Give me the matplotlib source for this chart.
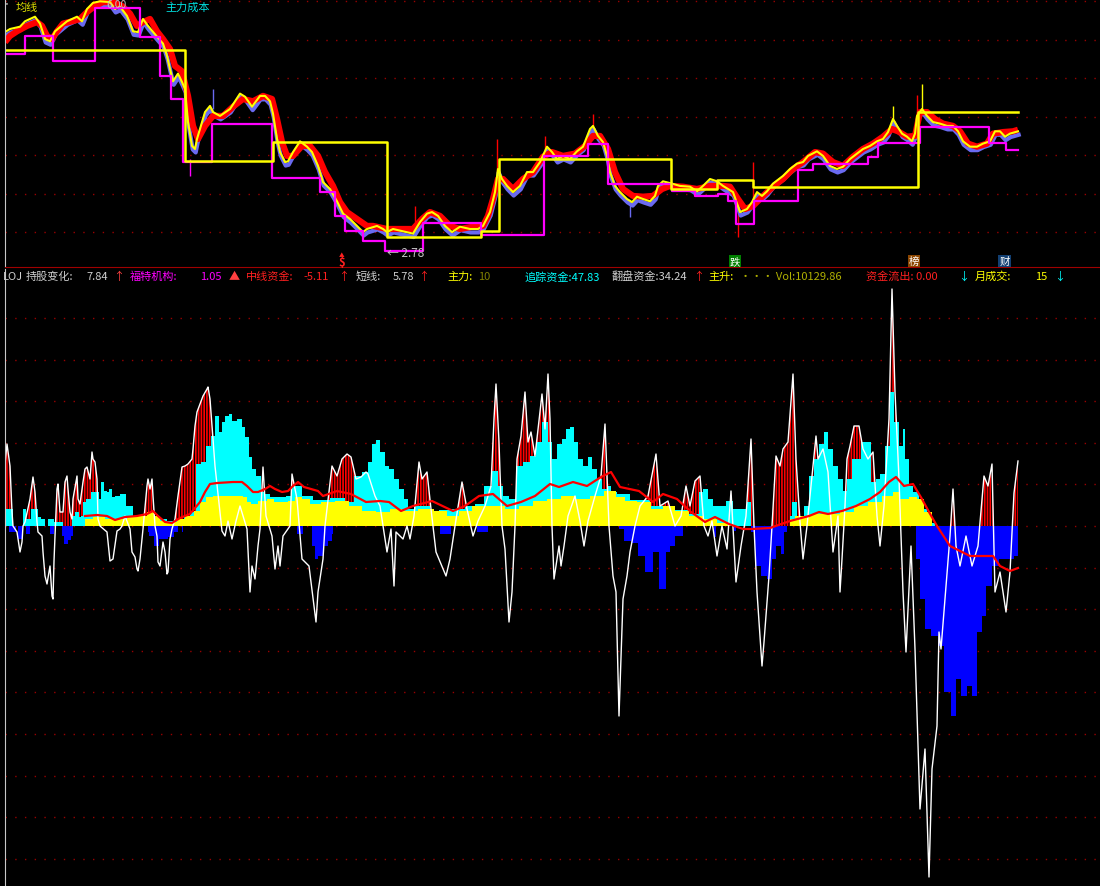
import numpy as np
import matplotlib.pyplot as plt
import matplotlib.patheffects as pe

plt.rcParams['font.family'] = ['Noto Sans CJK SC', 'DejaVu Sans']
plt.rcParams['hatch.linewidth'] = 1.2

# ---- 主图数据 (交易日序号, 价格) ----
close_pts = [
    (1.0, 5.60), (2.0, 5.64), (4.0, 5.67), (5.0, 5.74), (6.0, 5.77), (7.0, 5.80), (8.0, 5.71), (9.0, 5.51),
    (10.0, 5.48), (11.0, 5.61), (13.4, 5.74), (15.4, 5.80), (16.4, 5.74), (17.4, 5.90), (18.6, 5.98), (20.0, 6.00),
    (22.0, 5.99), (23.0, 5.90), (24.0, 5.93), (25.4, 5.81), (26.6, 5.61), (27.6, 5.60), (28.6, 5.77), (29.6, 5.68),
    (31.4, 5.54), (32.6, 5.45), (33.4, 5.29), (34.0, 5.12), (34.6, 4.96), (35.6, 5.06), (36.4, 4.95), (37.0, 4.86),
    (37.6, 4.43), (38.4, 4.12), (39.0, 4.08), (39.4, 4.21), (40.0, 4.34), (41.0, 4.56), (42.0, 4.64), (42.6, 4.56),
    (44.0, 4.51), (46.0, 4.60), (48.0, 4.80), (49.0, 4.76), (50.4, 4.63), (52.0, 4.77), (53.0, 4.77), (54.0, 4.70),
    (54.6, 4.54), (55.4, 4.21), (56.0, 4.04), (57.0, 3.91), (57.6, 3.92), (58.6, 4.04), (60.0, 4.18), (61.4, 4.11),
    (62.4, 4.04), (63.6, 3.86), (64.6, 3.65), (66.0, 3.56), (67.4, 3.40), (68.6, 3.24), (70.0, 3.17), (71.4, 3.08),
    (72.6, 3.00), (73.4, 3.04), (75.4, 3.08), (76.6, 3.04), (77.4, 3.00), (78.6, 3.04), (80.6, 3.01), (82.6, 2.98),
    (84.0, 3.13), (85.4, 3.24), (86.4, 3.26), (87.6, 3.21), (89.0, 3.08), (90.4, 3.00), (92.0, 3.07), (94.0, 3.04),
    (95.6, 3.04), (96.6, 3.08), (98.0, 3.26), (99.0, 3.52), (99.6, 3.82), (100.4, 3.69), (101.4, 3.60), (102.6, 3.52),
    (104.0, 3.60), (105.4, 3.78), (106.6, 3.78), (108.0, 3.91), (109.4, 4.11), (110.4, 4.04), (111.4, 3.95), (112.6, 3.99),
    (114.0, 3.95), (115.4, 4.05), (116.6, 4.11), (118.0, 4.34), (118.6, 4.38), (119.6, 4.25), (120.6, 4.17), (121.4, 3.99),
    (122.0, 3.78), (123.0, 3.60), (124.0, 3.52), (125.4, 3.43), (126.4, 3.39), (127.4, 3.46), (128.6, 3.43), (130.0, 3.40),
    (131.0, 3.47), (131.6, 3.60), (132.6, 3.66), (134.4, 3.63), (136.0, 3.60), (138.0, 3.59), (139.4, 3.53), (140.6, 3.60),
    (142.0, 3.69), (143.4, 3.66), (144.6, 3.60), (146.6, 3.52), (148.0, 3.26), (149.4, 3.30), (150.4, 3.39), (151.4, 3.52),
    (152.4, 3.47), (153.4, 3.53), (154.6, 3.63), (156.6, 3.73), (158.0, 3.82), (159.4, 3.89), (160.6, 3.91), (161.6, 3.99),
    (163.4, 4.05), (164.6, 3.99), (166.0, 3.86), (167.4, 3.82), (168.6, 3.85), (170.0, 3.95), (171.4, 4.02), (172.6, 4.08),
    (174.0, 4.12), (175.4, 4.18), (176.6, 4.21), (177.6, 4.30), (178.6, 4.47), (179.4, 4.38), (180.4, 4.28), (181.4, 4.24),
    (182.4, 4.18), (183.0, 4.28), (183.4, 4.51), (184.4, 4.60), (185.4, 4.51), (186.6, 4.43), (188.0, 4.41), (189.4, 4.38),
    (190.6, 4.38), (191.6, 4.31), (192.6, 4.18), (194.0, 4.11), (195.4, 4.11), (196.6, 4.15), (198.0, 4.18), (199.0, 4.31),
    (200.0, 4.31), (201.0, 4.24), (202.0, 4.28), (203.6, 4.31),
]

ma_pts = [
    (1.0, 5.47), (2.0, 5.55), (3.4, 5.61), (5.4, 5.68), (7.4, 5.73), (8.4, 5.68), (9.4, 5.55), (10.4, 5.51),
    (11.4, 5.61), (12.6, 5.71), (14.4, 5.74), (16.0, 5.77), (17.4, 5.86), (19.0, 5.94), (20.6, 5.99), (22.6, 5.99),
    (24.4, 5.94), (26.0, 5.84), (27.4, 5.68), (28.6, 5.73), (30.0, 5.77), (31.4, 5.61), (32.6, 5.51), (34.0, 5.38),
    (35.0, 5.16), (36.4, 5.09), (37.6, 4.77), (38.6, 4.38), (39.6, 4.21), (41.0, 4.38), (42.6, 4.51), (44.6, 4.51),
    (46.6, 4.63), (48.6, 4.73), (50.6, 4.70), (52.6, 4.77), (54.4, 4.73), (55.4, 4.47), (56.4, 4.17), (57.4, 3.99),
    (58.6, 3.99), (60.4, 4.12), (62.0, 4.12), (63.6, 3.99), (65.0, 3.78), (66.6, 3.60), (68.0, 3.39), (69.4, 3.26),
    (71.4, 3.17), (73.4, 3.08), (74.6, 3.08), (77.4, 3.04), (80.0, 3.04), (82.6, 3.04), (84.4, 3.17), (86.0, 3.26),
    (88.0, 3.21), (90.0, 3.08), (92.0, 3.04), (94.6, 3.07), (96.6, 3.08), (97.6, 3.21), (98.6, 3.43), (99.6, 3.69),
    (100.6, 3.69), (102.6, 3.56), (104.6, 3.69), (106.6, 3.78), (108.6, 3.98), (110.4, 4.04), (112.6, 3.99), (115.0, 4.02),
    (117.0, 4.12), (118.6, 4.25), (120.0, 4.25), (121.6, 4.08), (123.0, 3.78), (124.6, 3.56), (126.6, 3.47), (128.6, 3.46),
    (130.6, 3.47), (132.4, 3.56), (134.0, 3.60), (136.6, 3.59), (139.4, 3.56), (142.0, 3.60), (144.6, 3.60), (146.0, 3.59),
    (147.6, 3.43), (149.0, 3.30), (150.6, 3.34), (152.6, 3.47), (154.6, 3.59), (156.6, 3.69), (158.6, 3.82), (160.6, 3.91),
    (163.0, 4.04), (164.6, 4.02), (166.6, 3.91), (168.6, 3.86), (170.6, 3.98), (172.6, 4.08), (174.6, 4.15), (176.6, 4.24),
    (178.4, 4.34), (179.6, 4.31), (181.4, 4.24), (183.0, 4.25), (184.0, 4.56), (185.4, 4.56), (187.0, 4.47), (188.6, 4.41),
    (190.6, 4.38), (192.0, 4.31), (193.6, 4.15), (195.4, 4.11), (197.4, 4.15), (198.6, 4.28), (200.6, 4.30), (202.6, 4.31),
    (203.6, 4.33),
]

# 阶梯通道线 (起始日, 价位)
mag_steps = [
    (1.0, 5.31), (5.0, 5.55), (10.6, 5.22), (19.0, 5.91), (28.0, 5.54), (32.0, 5.03), (34.2, 4.73), (36.6, 3.91),
    (42.4, 4.41), (54.4, 3.70), (64.0, 3.52), (67.0, 3.21), (69.0, 3.01), (72.6, 2.88), (77.0, 2.75), (84.6, 3.12),
    (96.2, 2.96), (108.8, 3.99), (117.6, 4.15), (121.6, 3.63), (134.4, 3.53), (139.0, 3.47), (143.6, 3.50), (145.6, 3.40),
    (147.2, 3.11), (150.8, 3.40), (159.6, 3.81), (162.6, 3.89), (173.6, 3.98), (175.6, 4.16), (184.0, 4.37), (197.8, 4.16),
    (201.2, 4.07), (203.6, 4.07),
]
yel_steps = [
    (1.0, 5.37), (37.0, 3.92), (54.6, 4.17), (77.4, 2.94), (96.2, 3.01), (99.8, 3.95), (134.2, 3.56), (143.4, 3.68),
    (150.6, 3.59), (183.6, 4.56), (203.6, 4.56),
]

# 影线 (日, 低, 高, 颜色)
wicks = [
    (99.4, 3.76, 4.21, '#ff0000'), (147.6, 2.94, 3.26, '#ff0000'), (150.6, 3.43, 3.91, '#ff0000'),
    (184.4, 4.60, 4.93, '#ffff00'), (183.4, 4.56, 4.78, '#ff0000'), (178.6, 4.47, 4.64, '#ffff00'),
    (42.6, 4.60, 4.86, '#6a6af0'), (38.0, 3.73, 3.95, '#ff00ff'), (126.0, 3.20, 3.40, '#6a6af0'),
    (109.0, 4.08, 4.25, '#ff0000'), (118.6, 4.38, 4.54, '#ff0000'), (83.0, 3.13, 3.34, '#ff0000'),
]

# ---- 副图数据 ----
osc_pts = [
    (1.0, 62), (1.4, 82), (2.0, 60), (2.4, 14), (2.6, 0), (3.4, -6), (4.0, -26), (4.4, -16), (4.6, 0), (5.0, 4),
    (6.0, 27), (6.6, 49), (7.0, 34), (7.4, 4), (7.6, -6), (8.4, -10), (8.6, -26), (9.0, -50), (9.4, -58), (10.0, -40),
    (10.4, -70), (10.6, -73), (10.8, -35), (11.0, -10), (11.4, 37), (11.6, 42), (12.0, 14), (12.6, 14), (13.0, 44),
    (13.4, 50), (13.6, 37), (14.0, 14), (14.4, 7), (14.6, 27), (15.4, 50), (15.6, 27), (16.0, 22), (16.4, 37),
    (16.6, 44), (17.0, 57), (17.4, 59), (18.0, 47), (18.4, 74), (18.6, 67), (19.0, 64), (19.4, 47), (19.6, 7),
    (20.0, 0), (21.4, -6), (22.0, -35), (22.6, -33), (23.4, -5), (24.0, -3), (24.4, 0), (25.0, 10), (26.0, -3),
    (26.4, -26), (27.0, -31), (27.4, -43), (27.6, -45), (28.0, -33), (28.6, -3), (29.4, 40), (29.6, 47), (30.0, 37),
    (30.4, 47), (30.6, 30), (31.0, 0), (31.4, -10), (31.6, -36), (32.0, -40), (32.6, -16), (33.0, -26), (33.4, -48),
    (33.6, -46), (34.0, -13), (34.4, -3), (35.0, 7), (35.6, 30), (36.4, 59), (37.0, 60), (37.6, 62), (38.4, 67),
    (38.6, 77), (39.0, 100), (39.4, 114), (40.0, 122), (40.6, 130), (41.4, 137), (41.6, 139), (42.0, 127), (43.0, 60),
    (44.4, -5), (45.0, -10), (45.6, 5), (46.4, -13), (47.2, 5), (48.0, 20), (49.4, -3), (50.0, -66), (50.4, -40),
    (51.0, -53), (51.6, -20), (52.0, -3), (52.6, 59), (53.2, 10), (54.4, -10), (55.0, -43), (55.6, -20), (56.0, -40),
    (56.6, -10), (58.0, 0), (58.4, 52), (59.4, 27), (60.4, -33), (61.8, -40), (63.2, -96), (63.6, -66), (64.6, -33),
    (65.0, 0), (66.4, 60), (67.4, 50), (68.4, 67), (69.4, 72), (70.2, 69), (71.2, 47), (72.2, 49), (73.2, 54),
    (73.6, 52), (75.0, 30), (76.0, 20), (77.4, -26), (78.2, -3), (78.8, -60), (79.2, -6), (80.6, -13), (81.4, 0),
    (82.0, -13), (82.8, 10), (83.8, 64), (84.4, 47), (85.4, 54), (86.2, 17), (87.2, -26), (89.2, -50), (90.0, -33),
    (91.0, 0), (92.4, 44), (93.4, 17), (94.6, -10), (95.6, 5), (97.0, 20), (98.2, 40), (98.8, 107), (99.2, 142),
    (99.8, 84), (100.0, 54), (100.4, 0), (101.0, -23), (101.8, -96), (102.4, -66), (103.0, 0), (103.4, 67), (104.2, 90),
    (105.0, 134), (105.6, 84), (106.2, 94), (107.0, 70), (108.4, 132), (109.0, 97), (109.6, 152), (110.0, 107),
    (110.4, 0), (110.8, -53), (111.8, -20), (112.2, -40), (112.8, -20), (113.6, 10), (115.0, 30), (116.0, 5),
    (116.8, -20), (117.6, 5), (119.0, 30), (120.2, 50), (121.0, 102), (121.8, 0), (122.6, -50), (123.2, -66),
    (123.8, -190), (124.6, -73), (125.4, -50), (126.0, -26), (127.0, 0), (128.0, 20), (129.6, 30), (131.2, 72),
    (132.0, 20), (133.6, 25), (135.0, 0), (136.2, 10), (137.2, 40), (138.0, 20), (139.0, 45), (140.0, 50), (140.8, 0),
    (141.6, -10), (142.4, 5), (143.4, -30), (144.4, 0), (145.4, -23), (146.2, 35), (147.2, -56), (148.2, -20),
    (149.2, 10), (150.2, 87), (150.8, 0), (151.4, -66), (152.4, -140), (152.8, -116), (153.8, -50), (154.4, 0),
    (155.2, 70), (156.0, 60), (156.6, 77), (157.6, 84), (158.6, 152), (159.2, 67), (160.0, 4), (160.6, -33),
    (161.4, 0), (162.4, 50), (163.2, 90), (163.6, 67), (164.6, 77), (165.6, 54), (166.6, -26), (167.6, 10),
    (168.0, -66), (168.4, -33), (169.0, 20), (169.4, 67), (170.0, 80), (170.8, 100), (171.8, 100), (172.6, 77),
    (173.6, 67), (174.6, 74), (175.4, 10), (176.0, -20), (176.8, 20), (177.8, 107), (178.4, 237), (179.0, 134),
    (179.8, 47), (180.6, -66), (181.2, -126), (182.2, -20), (183.0, -123), (184.0, -283), (185.0, -223), (185.8, -351),
    (186.4, -243), (187.4, -200), (187.8, -106), (188.2, -123), (189.2, -60), (190.0, -10), (190.6, 37), (191.2, -20),
    (192.0, -40), (193.2, -10), (194.4, -40), (195.6, -20), (196.8, 50), (197.6, 40), (198.4, 62), (199.0, -66),
    (200.0, -46), (201.2, -86), (202.0, -46), (202.8, 33), (203.6, 65),
]

cyan_pts = [
    (1.0, 17), (2.4, 17), (2.6, 0), (4.4, 0), (4.6, 17), (5.6, 7), (6.6, 17), (7.4, 17), (7.6, 9), (8.6, 7),
    (9.4, 0), (9.6, 7), (10.6, 7), (10.8, 4), (12.4, 4), (12.6, 0), (14.2, 0), (14.4, 10), (15.4, 14), (16.0, 9),
    (16.4, 10), (16.6, 24), (17.6, 27), (18.6, 34), (19.4, 34), (20.0, 27), (20.4, 44), (21.0, 35), (21.6, 34),
    (22.0, 37), (22.6, 29), (23.4, 30), (24.4, 32), (25.0, 32), (25.4, 20), (26.4, 20), (26.6, 10), (27.4, 10),
    (29.4, 9), (30.0, 14), (30.6, 10), (31.6, 9), (32.6, 7), (34.0, 5), (35.0, 5), (36.0, 7), (37.4, 10), (38.6, 14),
    (39.6, 62), (40.6, 64), (41.6, 80), (42.6, 90), (43.4, 110), (44.0, 94), (44.6, 104), (45.4, 110), (46.0, 112),
    (46.6, 105), (48.0, 107), (48.6, 99), (49.4, 89), (50.0, 69), (50.6, 57), (51.6, 50), (52.6, 34), (53.4, 32),
    (54.6, 29), (56.6, 29), (57.6, 30), (58.6, 40), (59.6, 40), (61.0, 30), (64.0, 26), (68.0, 28), (70.0, 24),
    (71.6, 50), (73.0, 54), (74.0, 64), (74.8, 82), (75.4, 86), (76.4, 74), (77.4, 60), (78.2, 57), (79.2, 47),
    (80.2, 37), (81.2, 27), (82.0, 17), (83.4, 20), (85.4, 20), (86.4, 14), (89.0, 16), (90.0, 17), (92.0, 17),
    (94.0, 20), (96.0, 22), (97.6, 40), (99.2, 55), (100.0, 40), (101.0, 30), (102.4, 27), (103.8, 60), (105.2, 64),
    (106.6, 70), (107.8, 84), (109.0, 104), (110.0, 84), (110.8, 67), (111.8, 82), (112.8, 87), (113.6, 97),
    (114.4, 99), (115.2, 84), (116.0, 67), (117.0, 60), (118.0, 69), (118.8, 57), (119.8, 47), (120.8, 37),
    (121.8, 40), (122.6, 34), (124.0, 32), (128.0, 26), (132.0, 20), (136.0, 16), (139.2, 12), (140.2, 34),
    (141.0, 37), (142.0, 27), (143.0, 20), (144.4, 20), (145.8, 25), (147.2, 17), (148.6, 17), (150.0, 24),
    (150.4, 0), (157.8, 0), (158.0, 10), (158.6, 24), (160.0, 10), (161.4, 20), (162.2, 50), (163.2, 67), (164.2, 82),
    (165.2, 94), (166.0, 77), (167.0, 60), (168.0, 47), (169.0, 35), (169.8, 47), (170.8, 67), (171.8, 67),
    (172.6, 84), (173.6, 84), (174.6, 44), (175.6, 47), (176.4, 52), (177.4, 80), (178.4, 134), (179.2, 104),
    (180.2, 80), (180.8, 97), (181.2, 67), (182.2, 40), (183.0, 34), (184.4, 17), (186.4, 3), (187.4, 0),
]

yel_pts = [
    (16.8, 0), (17.0, 7), (20.0, 9), (22.0, 7), (24.0, 7), (26.6, 9), (28.6, 10), (30.0, 14), (31.4, 10), (32.6, 5),
    (33.6, 3), (34.6, 4), (36.0, 7), (38.0, 10), (39.4, 15), (40.6, 24), (41.6, 29), (43.4, 30), (46.6, 30),
    (48.0, 30), (49.0, 29), (49.6, 24), (50.6, 22), (52.6, 25), (54.0, 27), (55.4, 24), (56.6, 24), (58.4, 25),
    (59.6, 29), (61.0, 27), (62.8, 22), (65.6, 24), (68.4, 25), (71.2, 20), (73.6, 15), (76.8, 14), (79.2, 17),
    (81.6, 15), (85.4, 17), (88.2, 15), (90.6, 10), (93.0, 15), (95.8, 20), (99.6, 20), (102.4, 17), (105.2, 20),
    (108.0, 25), (110.8, 27), (113.6, 30), (116.6, 27), (119.4, 30), (122.2, 35), (124.0, 29), (126.0, 25),
    (128.8, 24), (131.6, 17), (133.6, 20), (136.4, 15), (139.2, 10), (142.0, 7), (144.8, 3), (147.2, 0), (157.8, 0),
    (158.0, 7), (160.0, 10), (163.8, 12), (166.6, 12), (169.4, 14), (172.2, 20), (175.0, 24), (177.8, 30),
    (179.2, 34), (180.8, 27), (182.6, 29), (184.0, 27), (185.4, 14), (187.4, 0),
]

sig_pts = [
    (17.0, 10), (19.4, 11), (21.4, 10), (23.0, 6), (25.0, 9), (27.4, 10), (29.4, 12), (30.6, 15), (31.6, 10),
    (33.0, 4), (34.4, 3), (36.0, 8), (38.0, 12), (40.0, 24), (41.0, 34), (42.0, 42), (43.4, 43), (46.6, 44),
    (48.4, 44), (49.4, 40), (50.6, 34), (51.6, 34), (53.0, 37), (54.0, 40), (55.0, 37), (56.4, 34), (57.6, 35),
    (58.6, 40), (59.6, 44), (60.8, 39), (63.6, 35), (64.6, 30), (67.4, 35), (70.2, 32), (73.2, 24), (76.0, 25),
    (77.8, 24), (80.2, 15), (82.6, 20), (86.4, 25), (90.6, 15), (93.0, 20), (95.8, 30), (98.6, 32), (101.4, 20),
    (104.2, 24), (107.0, 30), (110.0, 42), (111.8, 39), (114.6, 44), (117.4, 40), (120.2, 49), (122.2, 54),
    (124.0, 39), (127.8, 35), (130.6, 24), (132.6, 32), (135.4, 27), (138.2, 14), (141.0, 4), (143.0, 9), (145.8, 2),
    (148.6, -3), (150.4, -3), (154.0, -2), (158.0, 5), (161.8, 10), (163.8, 14), (165.6, 12), (168.4, 15),
    (171.2, 20), (174.0, 27), (176.0, 34), (177.8, 44), (179.2, 49), (180.8, 40), (182.6, 42), (184.4, 27),
    (185.8, 14), (187.4, 0), (190.0, -20), (194.0, -30), (198.6, -30), (200.0, -40), (202.0, -45), (203.6, -42),
]

blue_pts = [
    (1.6, 0), (2.0, -6), (3.0, -6), (3.2, 0), (3.4, 0), (3.6, -13), (4.4, -13), (4.6, 0), (5.0, 0), (5.2, -8),
    (5.8, -8), (6.0, 0), (9.8, 0), (10.0, -8), (10.6, -8), (10.8, 0), (12.2, 0), (12.4, -10), (13.2, -18),
    (14.0, -14), (14.4, -10), (14.6, 0), (29.4, 0), (29.6, -6), (30.0, -10), (31.4, -20), (32.0, -13), (33.0, -13),
    (34.0, -11), (35.4, -6), (35.6, 0), (36.2, 0), (36.4, -6), (36.8, 0), (59.2, 0), (59.4, -8), (60.4, -8),
    (60.6, 0), (62.2, 0), (62.6, -20), (63.2, -33), (64.0, -30), (65.0, -20), (66.0, -15), (66.6, -8), (66.8, 0),
    (87.8, 0), (88.0, -8), (90.0, -8), (90.2, 0), (95.2, 0), (95.4, -6), (97.6, -6), (97.8, 0), (123.6, 0),
    (124.0, -3), (125.4, -15), (126.8, -17), (128.2, -30), (129.8, -46), (131.2, -26), (132.6, -63), (133.6, -26),
    (134.4, -20), (135.4, -10), (136.4, -10), (136.6, 0), (142.6, 0), (143.0, -11), (143.4, 0), (146.6, 0),
    (147.0, -5), (147.4, 0), (150.0, 0), (150.4, -6), (151.4, -40), (152.8, -50), (153.8, -53), (154.8, -33),
    (155.6, -20), (156.6, -28), (157.2, -6), (157.4, 0), (183.0, 0), (183.4, -33), (184.4, -73), (185.4, -103),
    (186.8, -110), (188.2, -120), (189.6, -166), (190.6, -190), (191.6, -153), (192.6, -170), (194.0, -160),
    (194.8, -170), (195.8, -106), (196.8, -90), (197.6, -60), (199.2, -40), (200.6, -33), (202.0, -33),
    (203.4, -30), (203.6, 0),
]

# 指标栏文字 (x像素, 文本, 颜色)
header = [
    (3, "LOJ", "#d0d0d0"), (26, "持股变化:", "#d0d0d0"), (86, "7.84", "#d0d0d0"), (113, "↑", "#ff4040"),
    (130, "福特机构:", "#ff00ff"), (200, "1.05", "#ff00ff"), (229, "▲", "#ff4040"),
    (246, "中线资金:", "#ff2020"), (303, "-5.11", "#ff2020"), (338, "↑", "#ff2020"),
    (356, "短线:", "#d0d0d0"), (393, "5.78", "#d0d0d0"), (418, "↑", "#ff2020"),
    (447, "主力:", "#ffff00"), (478, "10", "#808000"),
    (524, "追踪资金:47.83", "#00ffff"),
    (612, "翻盘资金:34.24", "#d0d0d0"), (693, "↑", "#ff2020"),
    (708, "主升:", "#ffff00"), (740, "··· Vol:10129.86", "#b0b000"),
    (866, "资金流出: 0.00", "#ff2020"), (958, "↓", "#00ffff"),
    (975, "月成交:", "#ffff00"), (1035, "15", "#ffff00"), (1054, "↓", "#00ffff"),
]

W, H = 1100, 887
fig = plt.figure(figsize=(W / 100, H / 100), dpi=100, facecolor='black')
ax1 = fig.add_axes([5 / W, 1 - 268 / H, 1 - 5 / W, 268 / H])
ax2 = fig.add_axes([5 / W, 0, 1 - 5 / W, 617 / H])

for ax in (ax1, ax2):
    ax.set_facecolor('black')
    ax.set_xlim(1, 220)
    ax.tick_params(left=False, bottom=False, labelleft=False, labelbottom=False)
    for s in ax.spines.values():
        s.set_visible(False)
    ax.spines['left'].set_visible(True)
    ax.spines['left'].set_color('#c8c8c8')
    ax.grid(axis='y', color='#990000', linestyle=(0, (1, 6)), lw=1)
    ax.set_axisbelow(True)

ax1.set_ylim(2.546, 6.03)
ax1.set_yticks(np.arange(3.0, 6.01, 0.5))
ax1.spines['bottom'].set_visible(True)
ax1.spines['bottom'].set_color('#a00000')

ax2.set_ylim(-360, 257)
ax2.set_yticks(np.arange(-8, 6) * 41.6)

# ---- 主图 ----
cd, cv = zip(*close_pts)
md, mv = zip(*ma_pts)
for d, lo, hi, c in wicks:
    ax1.vlines(d, lo, hi, color=c, lw=1)
ax1.plot(cd, cv, color='#6a6af0', lw=3.0, path_effects=[pe.Stroke(offset=(0.5, -2.5))])
ax1.plot(md, mv, color='#ff0000', lw=4.5, solid_capstyle='butt')
ax1.plot(cd, cv, color='#ffff00', lw=1.5)
sd, sv = zip(*mag_steps)
ax1.plot(sd, sv, color='#ff00ff', lw=1.6, drawstyle='steps-post')
yd, yv = zip(*yel_steps)
ax1.plot(yd, yv, color='#ffff00', lw=1.8, drawstyle='steps-post')

ax1.text(21.2, 6.025, "6.00", color='#c0c0c0', fontsize=7.5, va='top', ha='left')
ax1.text(77.4, 2.74, "← 2.78", color='#c0c0c0', fontsize=8.5, va='center', ha='left')
ax1.text(3.2, 5.93, "均线", color='#e0e000', fontsize=8, va='center')
ax1.text(33.0, 5.93, "主力成本", color='#00e0e0', fontsize=8, va='center')
ax1.text(68.4, 2.71, "▲", color='#ff2020', fontsize=4, ha='center', va='center')
ax1.text(68.4, 2.615, "$", color='#ff2020', fontsize=8, ha='center', va='center', fontweight='bold')
for d, ch, bg in [(147.0, "跌", '#008000'), (182.8, "榜", '#8b4500'), (200.9, "财", '#123f72')]:
    ax1.text(d, 2.62, ch, color='white', fontsize=7.5, ha='center', va='center',
             bbox=dict(boxstyle='square,pad=0.08', fc=bg, ec='none'))

# ---- 副图 ----
od, ov = map(np.array, zip(*osc_pts))
ax2.fill_between(od, ov, 0, where=ov > 0, interpolate=True, facecolor='black',
                 edgecolor='#ff0000', hatch='||||||', linewidth=0)
bd, bv = zip(*blue_pts)
ax2.fill_between(bd, bv, 0, step='mid', color='#0000ff', lw=0)
ax2.plot(od, ov, color='white', lw=1)
qd, qv = zip(*cyan_pts)
ax2.fill_between(qd, qv, 0, step='mid', color='#00ffff', lw=0)
ed, ev = zip(*yel_pts)
ax2.fill_between(ed, ev, 0, step='mid', color='#ffff00', lw=0)
gd, gv = zip(*sig_pts)
ax2.plot(gd, gv, color='#ff0000', lw=1.6)

fig.text(1 / W, 1 - 5 / H, "•", color='#a0a0a0', fontsize=7, va='center')
for x, t, c in header:
    fig.text(x / W, 1 - 277 / H, t, color=c, fontsize=8, va='center', ha='left')

fig.savefig('out.png', dpi=100, facecolor='black')
